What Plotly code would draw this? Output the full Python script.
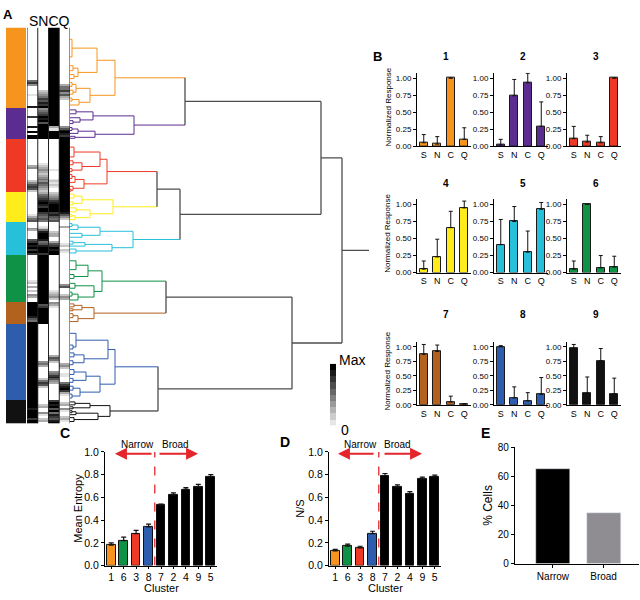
import plotly.graph_objects as go

W, H = 640, 600
OX, OY = 0, 0
FONT = "Liberation Sans, Arial, Helvetica, sans-serif"

# ---------------- data ----------------
CLUSTER_LABELS = ["1", "2", "3", "4", "5", "6", "7", "8", "9"]
CLUSTER_COLORS = ["#F7941D", "#5C2D91", "#EE3A24", "#FFEC1A", "#27C0DA",
                  "#0F9146", "#B3611F", "#2F5DAE", "#111111"]
CLUSTER_SIZES = [41, 16, 27, 15, 17, 24, 11, 39, 12]

HEAT_COLUMNS = ["S", "N", "C", "Q"]
# one string per cluster (top to bottom), one digit per cell: 0 = none, 9 = max
HEAT_S = ["0000000000" "0000000000" "0000000574" "0000100000" "8",
          "0000700008009099",
          "0000000000" "0003400000" "0246762",
          "000000000001356",
          "00043000067989797",
          "0000000000" "0001203020" "4300",
          "99999998659",
          "9999999999" "9999999999" "9999999999" "999999999",
          "999989999799"]
HEAT_N = ["0000000000" "0000000000" "0000000000" "0023457687" "9",
          "4567989699999999",
          "0000000000" "0012343234" "5465432",
          "356789879976565",
          "00125899985689997",
          "9999999999" "9999999999" "9999",
          "96799999999",
          "0000000000" "0000000004" "5300000025" "762000000",
          "002300410230"]
HEAT_C = ["9999999999" "9999999999" "9999999999" "9999999999" "9",
          "9999999993119999",
          "0000000000" "0000010000" "1212100",
          "234578999978656",
          "00000233003679899",
          "0000000000" "0000000012" "3420",
          "43100000000",
          "0000000000" "0000003652" "0000457864" "300000000",
          "798969587689"]
HEAT_Q = ["0000000000" "0000000000" "0000000003" "5574632000" "0",
          "0000000004689879",
          "9999999999" "9999999999" "9999999",
          "999999999986420",
          "00300000000120210",
          "0000000000" "0000046000" "2430",
          "00000000000",
          "0000000000" "0000000000" "3420011000" "578973100",
          "023041002310"]

# dendrogram: [merge distance, left, right]; an int is a leaf group of that many cells
TREE_1 = [45, [27, [2, 12, 6], [8, [3, 3, 2], [4, 2, 2]]], [20, [6, [2, 2, 2], [3, 2, 2]], [9, [2, 2, 1], 3]]]
TREE_2 = [64, [23, [6, 2, 2], [10, 2, [3, 1, 2]]], [25, [8, [2, 2, 1], 2], [5, 1, 1]]]
TREE_3 = [37, [30, [4, 8, 2], [12, [3, 2, 2], [2, 2, 1]]], [14, [5, [2, 2, 2], 2], [3, 2, [1, 1, 1]]]]
TREE_4 = [43, [12, [4, 2, 2], [3, 2, 1]], [20, [6, 2, 2], [5, [2, 1, 1], 2]]]
TREE_5 = [63, [30, [8, [2, 2, 1], 2], [12, 2, 2]], [42, [15, [3, 2, 1], 1], [6, 2, 2]]]
TREE_6 = [32, [18, [6, 6, 3], [4, 2, 2]], [24, [5, 3, 2], [8, [2, 2, 2], 2]]]
TREE_7 = [24, [12, [4, 2, 1], [3, 1, 1]], [8, [3, 2, 2], 2]]
TREE_8 = [45, [38, [6, 10, [3, 2, 2]], [14, [4, 2, 2], [3, 2, 2]]], [30, [16, [4, 3, 2], [3, 2, 2]], [10, [3, 2, 2], [2, 2, 2]]]]
TREE_9 = [40, [20, [5, 2, 1], [3, 1, 1]], [28, [6, [2, 1, 1], 1], [4, 2, 2]]]
# top level: ints are cluster indices
CLUSTER_TREE = [272, [251, [115, 0, 1], [110, [87, 2, 3], 4]], [222, [96, 5, 6], [88, 7, 8]]]
ROOT_END = 299

LEGEND_STEPS = [9, 8, 7, 6, 5, 4, 3, 2, 1, 0]

RESP_CATS = ["S", "N", "C", "Q"]
RESP_MEAN = [[0.05, 0.03, 1.00, 0.10],
             [0.02, 0.74, 0.93, 0.29],
             [0.11, 0.06, 0.05, 1.00],
             [0.05, 0.23, 0.66, 0.95],
             [0.41, 0.75, 0.30, 0.93],
             [0.05, 1.00, 0.07, 0.08],
             [0.87, 0.92, 0.05, 0.01],
             [1.00, 0.12, 0.07, 0.18],
             [0.97, 0.20, 0.76, 0.19]]
RESP_ERR = [[0.12, 0.11, 0.00, 0.17],
            [0.08, 0.24, 0.14, 0.36],
            [0.18, 0.10, 0.09, 0.00],
            [0.12, 0.26, 0.24, 0.10],
            [0.37, 0.22, 0.31, 0.10],
            [0.12, 0.00, 0.18, 0.16],
            [0.17, 0.11, 0.10, 0.01],
            [0.02, 0.19, 0.14, 0.29],
            [0.07, 0.28, 0.21, 0.27]]

ORDER = ["1", "6", "3", "8", "7", "2", "4", "9", "5"]
ORDER_GROUP = ["Narrow"] * 4 + ["Broad"] * 5
ENTROPY = [0.18, 0.22, 0.28, 0.34, 0.53, 0.62, 0.67, 0.69, 0.78]
ENTROPY_ERR = [0.02, 0.03, 0.03, 0.025, 0.01, 0.02, 0.015, 0.025, 0.02]
NS = [0.13, 0.17, 0.155, 0.28, 0.79, 0.69, 0.63, 0.76, 0.78]
NS_ERR = [0.012, 0.018, 0.015, 0.022, 0.02, 0.02, 0.02, 0.018, 0.015]

E_CATS = ["Narrow", "Broad"]
E_VALS = [65, 35]
E_COLORS = ["#000000", "#8F8D92"]

RED = "#E4262C"
GRAY = "#4D4D4D"

# ---------------- helpers ----------------
layout = {}
traces = []
shapes = []
annotations = []
_n = [0]


def fx(px):
    return min(1.0, max(0.0, (px - OX) / W))


def fy(py):
    return min(1.0, max(0.0, 1 - (py - OY) / H))


def new_axes(xpx, ypx, xkw=None, ykw=None):
    _n[0] += 1
    s = "" if _n[0] == 1 else str(_n[0])
    base = dict(showgrid=False, zeroline=False, fixedrange=True)
    xd = dict(base, domain=[fx(xpx[0]), fx(xpx[1])], anchor="y" + s)
    yd = dict(base, domain=[fy(ypx[1]), fy(ypx[0])], anchor="x" + s)
    xd.update(xkw or {})
    yd.update(ykw or {})
    layout["xaxis" + s] = xd
    layout["yaxis" + s] = yd
    return "x" + s, "y" + s


def text(x, y, t, size, bold=False, xanchor="center", angle=0, color="#000"):
    annotations.append(dict(x=(x - OX) / W, y=1 - (y - OY) / H, xref="paper", yref="paper",
                            text=("<b>%s</b>" % t) if bold else t,
                            showarrow=False, xanchor=xanchor, yanchor="middle", textangle=angle,
                            font=dict(family=FONT, size=size, color=color)))


HIDDEN = dict(visible=False)
NROWS = sum(CLUSTER_SIZES)
for k, s in enumerate(CLUSTER_SIZES):
    for col in (HEAT_S, HEAT_N, HEAT_C, HEAT_Q):
        assert len(col[k]) == s, (k, len(col[k]), s)

# ---------------- panel A ----------------
A_TOP, A_BOT = 22, 426
row_y = [i + 0.5 for i in range(NROWS)]
row_cluster = []
for k, s in enumerate(CLUSTER_SIZES):
    row_cluster += [k] * s

# cluster colour strip
xa, ya = new_axes((6, 26), (A_TOP, A_BOT), dict(HIDDEN, range=[-0.5, 0.5]), dict(HIDDEN, range=[NROWS, 0]))
disc = []
for k, c in enumerate(CLUSTER_COLORS):
    disc += [[k / 9, c], [(k + 1) / 9, c]]
traces.append(go.Heatmap(z=[[k] for k in row_cluster], x=[0], y=row_y, colorscale=disc, zmin=-0.5, zmax=8.5,
                         showscale=False, hoverinfo="skip", xaxis=xa, yaxis=ya))

# response heatmap
xh, yh = new_axes((27, 70), (A_TOP, A_BOT), dict(HIDDEN, range=[-0.5, 3.5]), dict(HIDDEN, range=[NROWS, 0]))
zc = []
for col in (HEAT_S, HEAT_N, HEAT_C, HEAT_Q):
    zc.append([int(ch) for ch in "".join(col)])
z = [[zc[j][i] for j in range(4)] for i in range(NROWS)]
traces.append(go.Heatmap(z=z, x=list(range(4)), y=row_y, colorscale=[[0, "#FFFFFF"], [1, "#000000"]],
                         zmin=0, zmax=9, showscale=False, hoverinfo="skip", xaxis=xh, yaxis=yh))
for xv in (-0.5, 0.5, 1.5, 2.5, 3.5):
    shapes.append(dict(type="line", xref=xh, yref=yh, x0=xv, x1=xv, y0=0, y1=NROWS,
                       line=dict(color="#222", width=1)))
text(49, 15, "".join(HEAT_COLUMNS), 14)

# dendrogram
xd, yd = new_axes((70, 369), (A_TOP, A_BOT), dict(HIDDEN, range=[0, ROOT_END]), dict(HIDDEN, range=[NROWS, 0]))
seg_by_color = {}


def add_seg(color, xs, ys):
    d = seg_by_color.setdefault(color, ([], []))
    d[0].extend(list(xs) + [None])
    d[1].extend(list(ys) + [None])


def build(node, start, color):
    if isinstance(node, int):
        return start + node / 2, 0.0, start + node
    h, l, r = node
    lc, lh, e1 = build(l, start, color)
    rc, rh, e2 = build(r, e1, color)
    add_seg(color, [lh, h, h, rh], [lc, lc, rc, rc])
    return (lc + rc) / 2, h, e2


roots = []
start = 0
for k, tree in enumerate([TREE_1, TREE_2, TREE_3, TREE_4, TREE_5, TREE_6, TREE_7, TREE_8, TREE_9]):
    c, h, start = build(tree, start, CLUSTER_COLORS[k])
    roots.append((c, h))


def build_top(node):
    if isinstance(node, int):
        return roots[node][0], roots[node][1], node
    h, l, r = node
    L = build_top(l)
    R = build_top(r)
    for child in (L, R):
        col = CLUSTER_COLORS[child[2]] if child[2] is not None else GRAY
        add_seg(col, [child[1], h], [child[0], child[0]])
    add_seg(GRAY, [h, h], [L[0], R[0]])
    return (L[0] + R[0]) / 2, h, None


rc_, rh_, _ = build_top(CLUSTER_TREE)
add_seg(GRAY, [rh_, ROOT_END], [rc_, rc_])
for col, (xs, ys) in seg_by_color.items():
    traces.append(go.Scatter(x=xs, y=ys, mode="lines", line=dict(color=col, width=1.3 if col == GRAY else 1.0),
                             hoverinfo="skip", xaxis=xd, yaxis=yd))

# grey-scale legend
xl, yl = new_axes((330, 336), (365, 428), dict(HIDDEN, range=[-0.5, 0.5]),
                  dict(HIDDEN, range=[len(LEGEND_STEPS) - 0.5, -0.5]))
traces.append(go.Heatmap(z=[[v] for v in LEGEND_STEPS], x=[0], y=list(range(len(LEGEND_STEPS))),
                         colorscale=[[0, "#E6E6E6"], [1, "#000000"]], zmin=0, zmax=9, showscale=False,
                         hoverinfo="skip", xaxis=xl, yaxis=yl))
text(337, 361, "Max", 14, xanchor="left")
text(339, 433, "0", 14, xanchor="left")
text(8, 9, "A", 13, bold=True)

# ---------------- panel B ----------------
text(377, 52, "B", 13, bold=True)
B_COLS = [417, 494, 567]
B_W = 54
B_ROWS = [(68, 143), (197, 272), (343, 407)]
B_TITLE_Y = [52, 181, 315]
for k in range(9):
    r, c = divmod(k, 3)
    x0 = B_COLS[c]
    top, bot = B_ROWS[r]
    xb, yb = new_axes((x0, x0 + B_W), (top, bot),
                      dict(type="category", range=[-0.5, 3.5], showline=True, linecolor="#000", linewidth=1,
                           ticks="", tickfont=dict(family=FONT, size=9, color="#000")),
                      dict(range=[0, 1.08], tickvals=[0, 0.25, 0.5, 0.75, 1.0], tickformat=".2f",
                           showline=True, linecolor="#000", linewidth=1, ticks="outside", ticklen=3,
                           tickcolor="#000", tickfont=dict(family=FONT, size=8, color="#000")))
    traces.append(go.Bar(x=RESP_CATS, y=RESP_MEAN[k], width=0.6, marker=dict(color=CLUSTER_COLORS[k],
                         line=dict(color="#1A1A1A", width=1)),
                         error_y=dict(type="data", array=RESP_ERR[k], symmetric=False, arrayminus=[0] * 4,
                                      color="#111", thickness=1, width=2),
                         hoverinfo="skip", xaxis=xb, yaxis=yb))
    text(x0 + B_W / 2 + 2, B_TITLE_Y[r], CLUSTER_LABELS[k], 10, bold=True)
    if c == 0:
        text(388, (top + bot) / 2 - 2, "Normalized Response", 8, angle=-90)

# ---------------- panels C and D ----------------
bar_colors = [CLUSTER_COLORS[CLUSTER_LABELS.index(o)] if g == "Narrow" else "#000000"
              for o, g in zip(ORDER, ORDER_GROUP)]
n_narrow = ORDER_GROUP.count("Narrow")


def cd_panel(xpx, vals, errs, ytitle, title_xy, letter, letter_xy, narrow_px, broad_px, arrows):
    xa_, ya_ = new_axes(xpx, (455, 571),
                        dict(type="category", range=[-0.5, len(ORDER) - 0.5], tickmode="array",
                             tickvals=ORDER, ticktext=ORDER, showline=True, linecolor="#000",
                             linewidth=1.2, ticks="outside", ticklen=2, tickcolor="#000",
                             tickfont=dict(family=FONT, size=10.5, color="#000")),
                        dict(range=[0, 1.0], tickvals=[0, 0.2, 0.4, 0.6, 0.8, 1.0], tickformat=".1f",
                             showline=True, linecolor="#000", linewidth=1.2, ticks="outside", ticklen=3,
                             tickcolor="#000", tickfont=dict(family=FONT, size=10.5, color="#000")))
    traces.append(go.Bar(x=ORDER, y=vals, width=0.7, marker=dict(color=bar_colors, line=dict(color="#111", width=1)),
                         error_y=dict(type="data", array=errs, symmetric=False, arrayminus=[0] * len(vals),
                                      color="#111", thickness=1.2, width=2.5),
                         hoverinfo="skip", xaxis=xa_, yaxis=ya_))
    xs = n_narrow - 0.5
    shapes.append(dict(type="line", xref=xa_, yref=ya_, x0=xs, x1=xs, y0=0, y1=1.0,
                       line=dict(color=RED, width=1.3, dash="dash")))
    for (hx, tx) in arrows:
        annotations.append(dict(x=hx, y=0.983, ax=tx, ay=0.983, xref=xa_, yref=ya_, axref=xa_, ayref=ya_,
                                text="", showarrow=True, arrowhead=2, arrowsize=1.2, arrowwidth=2,
                                arrowcolor=RED))
    text(narrow_px, 447, "Narrow", 10)
    text(broad_px, 447, "Broad", 10)
    text(title_xy[0], title_xy[1], ytitle, 11, angle=-90)
    text((xpx[0] + xpx[1]) / 2, 594, "Cluster", 11)
    text(letter_xy[0], letter_xy[1], letter, 14, bold=True)


cd_panel((105, 217), ENTROPY, ENTROPY_ERR, "Mean Entropy", (78, 513), "C", (65, 436), 137, 175,
         [(0.30, 3.36), (6.98, 3.76)])
cd_panel((329, 441), NS, NS_ERR, "N/S", (300, 513), "D", (285, 445), 360, 397,
         [(0.22, 3.2), (6.98, 3.84)])

# ---------------- panel E ----------------
xe, ye = new_axes((515, 639), (450, 569),
                  dict(type="category", range=[-0.75, 1.7], showline=True, linecolor="#000", linewidth=1.2,
                       ticks="outside", ticklen=3, tickcolor="#000", tickfont=dict(family=FONT, size=10, color="#000")),
                  dict(range=[0, 80], tickvals=[0, 20, 40, 60, 80], showline=True, linecolor="#000",
                       linewidth=1.2, ticks="outside", ticklen=3, tickcolor="#000",
                       tickfont=dict(family=FONT, size=10, color="#000")))
traces.append(go.Bar(x=E_CATS, y=E_VALS, width=0.67, marker=dict(color=E_COLORS), hoverinfo="skip",
                     xaxis=xe, yaxis=ye))
text(488, 510, "% Cells", 12, angle=-90)
text(485, 436, "E", 14, bold=True)

fig = go.Figure(data=traces)
fig.update_layout(**layout)
fig.update_layout(width=W, height=H, margin=dict(l=0, r=0, t=0, b=0), showlegend=False,
                  paper_bgcolor="white", plot_bgcolor="white", shapes=shapes, annotations=annotations,
                  bargap=0, font=dict(family=FONT))
fig.write_html("out.html", config={"displayModeBar": False},
               post_script="document.body.style.margin='0px';")
